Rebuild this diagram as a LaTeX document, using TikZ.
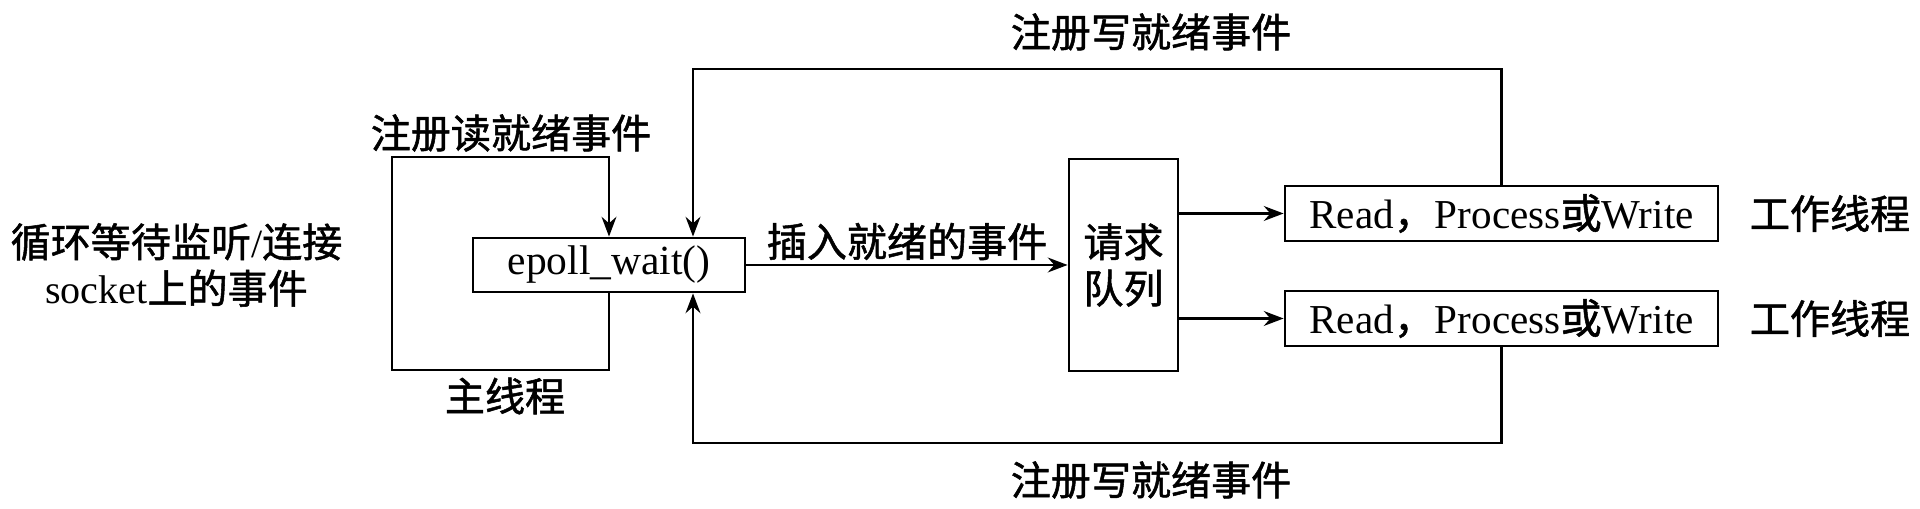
\documentclass[tikz,border=0pt]{standalone}
\usepackage{fontspec}
\setmainfont{Liberation Serif}
\newfontfamily\cjk[FakeBold=1.3]{Noto Sans CJK SC}
\usetikzlibrary{arrows.meta}

\begin{document}
\begin{tikzpicture}[
    every node/.style={font=\fontsize{11.4}{13.2}\selectfont},
    boite/.style={draw, line width=0.8pt, inner sep=0pt},
    trait/.style={line width=0.8pt},
    fleche/.style={trait, -{Stealth[length=5.6pt,width=4.2pt]}}
  ]
      \useasboundingbox (0,0) rectangle (19.2,5.09);

      %boites
      \node[boite, minimum width=2.72cm, minimum height=0.54cm, font=\fontsize{11.8}{13.2}\selectfont] (epoll) at (6.09,2.44) {epoll\_wait()};
      \node[boite, minimum width=1.09cm, minimum height=2.12cm, align=center] (file) at (11.235,2.44) {\cjk 请求\\\cjk 队列};
      \node[boite, minimum width=4.33cm, minimum height=0.55cm, font=\fontsize{11.7}{13.2}\selectfont] (rd1) at (15.015,2.955) {Read{\cjk ，}Process{\cjk 或}Write};
      \node[boite, minimum width=4.33cm, minimum height=0.55cm, font=\fontsize{11.7}{13.2}\selectfont] (rd2) at (15.015,1.905) {Read{\cjk ，}Process{\cjk 或}Write};

      %textes
      \node[align=center] (boucle) at (1.765,2.44) {{\cjk 循环等待监听}/{\cjk 连接}\\socket{\cjk 上的事件}};
      \node (lire) at (5.11,3.76) {\cjk 注册读就绪事件};
      \node (main) at (5.05,1.13) {\cjk 主线程};
      \node (ecrH) at (11.51,4.77) {\cjk 注册写就绪事件};
      \node (ecrB) at (11.51,0.29) {\cjk 注册写就绪事件};
      \node (trav1) at (18.30,2.955) {\cjk 工作线程};
      \node (trav2) at (18.30,1.905) {\cjk 工作线程};

      %points de passage
      \coordinate (bg) at (3.92,1.39);
      \coordinate (hg) at (3.92,3.52);
      \coordinate (h) at (6.93,4.40);
      \coordinate (b) at (6.93,0.66);

      %boucle du thread principal
      \draw[fleche] (epoll.south) |- (bg) -- (hg) -| (epoll.north);
      %insertion
      \draw[fleche] (epoll) -- node[above, inner sep=1pt] {\cjk 插入就绪的事件} (file);
      \draw[fleche] (file.east |- rd1) -- (rd1);
      \draw[fleche] (file.east |- rd2) -- (rd2);
      %retour vers epoll
      \draw[fleche] (rd1.north) |- (h) -- (h |- epoll.north);
      \draw[fleche] (rd2.south) |- (b) -- (b |- epoll.south);
    \end{tikzpicture}
\end{document}
